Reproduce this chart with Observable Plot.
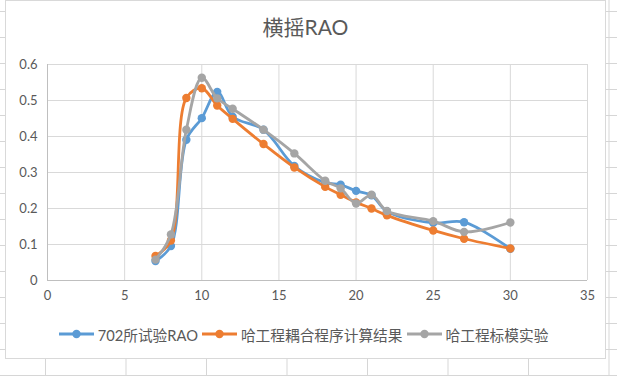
<!DOCTYPE html>
<html>
<head>
<meta charset="utf-8">
<script src="https://cdn.jsdelivr.net/npm/d3@7"></script>
<script src="https://cdn.jsdelivr.net/npm/@observablehq/plot@0.6"></script>
<style>
  html, body { margin: 0; padding: 0; width: 617px; height: 376px; overflow: hidden; }
  body {
    background-color: #fff;
    background-image: linear-gradient(to right, #d6d6d6 1px, transparent 1px),
                      linear-gradient(to bottom, #d6d6d6 1px, transparent 1px);
    background-size: 80.5px 26px;
    background-position: 45px 11px;
    font-family: Lato, "Noto Sans CJK SC", sans-serif;
  }
  #chart {
    position: absolute; left: 5px; top: 0px; width: 599px; height: 357px;
    background: #fff; border: 1px solid #d9d9d9;
  }
  #title {
    height: 50px; box-sizing: border-box; padding-top: 11px; line-height: 30px;
    text-align: center; font-size: 21px; color: #595959;
  }
  #plot svg { display: block; }
  #legend {
    display: flex; justify-content: center; align-items: center;
    margin-top: 15px; font-size: 14.7px; color: #595959; height: 20px;
  }
  .item { display: flex; align-items: center; margin-right: 4px; }
  .item svg { margin-right: 4px; }
</style>
</head>
<body>
<div id="chart">
  <div id="title">横摇RAO</div>
  <div id="plot"></div>
  <div id="legend"></div>
</div>
<script>
const xValues = [7, 8, 9, 10, 11, 12, 14, 16, 18, 19, 20, 21, 22, 25, 27, 30];
const seriesNames = ["702所试验RAO", "哈工程耦合程序计算结果", "哈工程标模实验"];
const series702 = [0.054, 0.096, 0.391, 0.451, 0.524, 0.455, 0.419, 0.318, 0.272, 0.266, 0.249, 0.237, 0.192, 0.160, 0.162, 0.088];
const seriesHEUCalc = [0.068, 0.111, 0.507, 0.534, 0.486, 0.449, 0.379, 0.314, 0.260, 0.238, 0.217, 0.200, 0.181, 0.139, 0.116, 0.089];
const seriesHEUModel = [0.058, 0.128, 0.419, 0.563, 0.506, 0.477, 0.419, 0.353, 0.277, 0.256, 0.214, 0.238, 0.193, 0.165, 0.135, 0.161];
const xTicks = [0, 5, 10, 15, 20, 25, 30, 35];
const yTicks = [0, 0.1, 0.2, 0.3, 0.4, 0.5, 0.6];
const colors = ["#5B9BD5", "#ED7D31", "#A5A5A5"];

const allSeries = [series702, seriesHEUCalc, seriesHEUModel];
const data = [];
allSeries.forEach((vals, si) => {
  vals.forEach((v, i) => data.push({series: seriesNames[si], x: xValues[i], y: v}));
});

const marks = [
  Plot.gridX(xTicks, {stroke: "#d9d9d9", strokeOpacity: 1}),
  Plot.gridY(yTicks, {stroke: "#d9d9d9", strokeOpacity: 1}),
  Plot.ruleX([0], {stroke: "#bfbfbf"}),
  Plot.ruleY([0], {stroke: "#bfbfbf"}),
  Plot.axisX(xTicks, {tickSize: 0, tickPadding: 10, fontSize: 13, fill: "#595959", label: null, tickFormat: d => String(d)}),
  Plot.axisY(yTicks, {tickSize: 0, tickPadding: 10, fontSize: 13, fill: "#595959", label: null, tickFormat: d => d === 0 ? "0" : d.toFixed(1)})
];
seriesNames.forEach((name, si) => {
  const d = data.filter(r => r.series === name);
  marks.push(Plot.line(d, {x: "x", y: "y", stroke: colors[si], strokeWidth: 2.8, curve: "catmull-rom"}));
  marks.push(Plot.dot(d, {x: "x", y: "y", fill: colors[si], r: 4.2}));
});

const chart = Plot.plot({
  width: 599,
  height: 258,
  marginLeft: 41,
  marginRight: 18,
  marginTop: 13,
  marginBottom: 29,
  style: {fontFamily: 'Lato, "Noto Sans CJK SC", sans-serif', background: "transparent"},
  x: {domain: [0, 35], label: null},
  y: {domain: [0, 0.6], label: null},
  marks
});
document.getElementById("plot").appendChild(chart);

const legend = document.getElementById("legend");
seriesNames.forEach((name, si) => {
  const item = document.createElement("div");
  item.className = "item";
  item.innerHTML = `<svg width="35" height="12"><line x1="0" y1="6" x2="35" y2="6" stroke="${colors[si]}" stroke-width="2.8"/><circle cx="17.5" cy="6" r="4.2" fill="${colors[si]}"/></svg><span>${name}</span>`;
  legend.appendChild(item);
});
</script>
</body>
</html>
